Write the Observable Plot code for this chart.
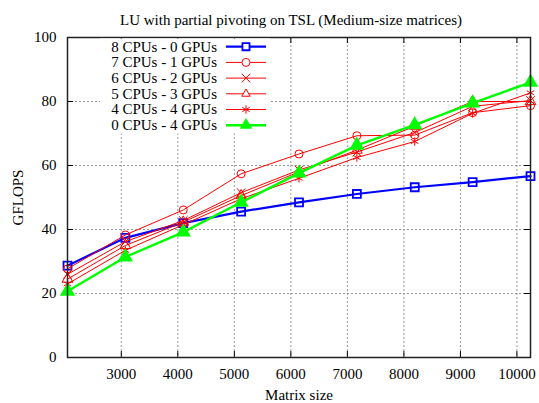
<!DOCTYPE html>
<html>
<head>
<meta charset="utf-8">
<script src="https://cdn.jsdelivr.net/npm/d3@7"></script>
<script src="https://cdn.jsdelivr.net/npm/@observablehq/plot@0.6"></script>
<style>
  html, body { margin: 0; padding: 0; background: white; }
</style>
</head>
<body>
<div id="chart"></div>
<script>
const sizes = [2048, 3072, 4096, 5120, 6144, 7168, 8192, 9216, 10240];
const cpu8gpu0 = [28.7, 37.4, 42.0, 45.6, 48.5, 51.1, 53.2, 54.8, 56.7];
const cpu7gpu1 = [27.7, 38.3, 46.1, 57.4, 63.6, 69.3, 69.5, 76.5, 78.7];
const cpu6gpu2 = [26.0, 36.2, 42.8, 51.5, 58.6, 64.2, 70.3, 78.5, 80.3];
const cpu5gpu3 = [24.5, 35.0, 42.3, 50.6, 58.0, 64.8, 72.3, 80.0, 80.0];
const cpu4gpu4 = [23.0, 33.5, 41.5, 49.6, 56.0, 62.5, 67.5, 76.3, 82.7];
const cpu0gpu4 = [20.7, 31.4, 39.2, 48.5, 57.6, 66.3, 72.7, 79.5, 86.0];
const xTicks = [3000, 4000, 5000, 6000, 7000, 8000, 9000, 10000];
const yTicks = [0, 20, 40, 60, 80, 100];
const title = "LU with partial pivoting on TSL (Medium-size matrices)";

const series = [
  {name: "8 CPUs - 0 GPUs", values: cpu8gpu0, color: "#0000ff", width: 2.2, symbol: "square", fill: "none", r: 4.5},
  {name: "7 CPUs - 1 GPUs", values: cpu7gpu1, color: "#ff0000", width: 1, symbol: "circle", fill: "none", r: 4},
  {name: "6 CPUs - 2 GPUs", values: cpu6gpu2, color: "#ff0000", width: 1, symbol: "times", fill: "none", r: 4},
  {name: "5 CPUs - 3 GPUs", values: cpu5gpu3, color: "#ff0000", width: 1, symbol: "triangle", fill: "none", r: 4},
  {name: "4 CPUs - 4 GPUs", values: cpu4gpu4, color: "#ff0000", width: 1, symbol: "asterisk", fill: "none", r: 4},
  {name: "0 CPUs - 4 GPUs", values: cpu0gpu4, color: "#00ff00", width: 2.4, symbol: "triangle", fill: "#00ff00", r: 4.5}
];

const W = 539, H = 403, mL = 67, mR = 9, mT = 37, mB = 46;
const fw = W - mL - mR, fh = H - mT - mB;
const FONT = "'Liberation Serif', 'DejaVu Serif', serif";

const marks = [
  Plot.gridX(xTicks, {stroke: "#999", strokeOpacity: 1, strokeDasharray: "2,2"}),
  Plot.gridY(yTicks, {stroke: "#999", strokeOpacity: 1, strokeDasharray: "2,2"}),
  Plot.tickX(xTicks, {x: d => d, insetTop: fh - 6, stroke: "black"}),
  Plot.tickX(xTicks, {x: d => d, insetBottom: fh - 6, stroke: "black"}),
  Plot.tickY(yTicks, {y: d => d, insetRight: fw - 6, stroke: "black"}),
  Plot.tickY(yTicks, {y: d => d, insetLeft: fw - 6, stroke: "black"}),
  Plot.axisX(xTicks, {tickSize: 0, tickPadding: 11, tickFormat: d => String(d), label: "Matrix size", labelAnchor: "center", labelArrow: "none", labelOffset: 42, fontSize: 15}),
  Plot.axisY(yTicks, {tickSize: 0, tickPadding: 11, label: "GFLOPS", labelAnchor: "center", labelArrow: "none", labelOffset: 55, fontSize: 15})
];

for (const s of series) {
  const data = sizes.map((x, i) => ({x, y: s.values[i]}));
  marks.push(Plot.line(data, {x: "x", y: "y", stroke: s.color, strokeWidth: s.width}));
  marks.push(Plot.dot(data, {x: "x", y: "y", stroke: s.color, fill: s.fill, symbol: s.symbol, r: s.r, strokeWidth: s.width > 2 ? 1.8 : 1}));
}
marks.push(Plot.frame({stroke: "#222", strokeWidth: 1.5}));
marks.push(Plot.text([title], {frameAnchor: "top", dy: -23, dx: -8, fontSize: 15, text: d => d}));

const chart = Plot.plot({
  width: W, height: H,
  marginLeft: mL, marginRight: mR, marginTop: mT, marginBottom: mB,
  style: {fontFamily: FONT, fontSize: "15px", background: "white", color: "black"},
  x: {domain: [2048, 10240]},
  y: {domain: [0, 100]},
  marks
});

// Opaque legend box inside the plot (top-left), placed above grid but below data lines
const svg = d3.select(chart);
const symMap = {square: d3.symbolSquare2, circle: d3.symbolCircle, times: d3.symbolTimes, triangle: d3.symbolTriangle2, asterisk: d3.symbolAsterisk};
const lg = svg.append("g").attr("font-family", FONT).attr("font-size", 15);
lg.append("rect").attr("x", 100).attr("y", 38.5).attr("width", 170).attr("height", 95).attr("fill", "white");
series.forEach((s, i) => {
  const y = 46.7 + i * 15.7;
  lg.append("text").attr("x", 217).attr("y", y).attr("dy", "0.32em").attr("text-anchor", "end").attr("fill", "black").text(s.name);
  lg.append("line").attr("x1", 226).attr("x2", 266).attr("y1", y).attr("y2", y).attr("stroke", s.color).attr("stroke-width", s.width);
  lg.append("path").attr("transform", `translate(246,${y})`)
    .attr("d", d3.symbol(symMap[s.symbol], s.r * s.r * Math.PI)())
    .attr("stroke", s.color).attr("fill", s.fill === "none" ? "white" : s.fill).attr("stroke-width", s.width > 2 ? 1.8 : 1);
});
// keep the frame's top edge and top ticks visible over the legend box
const gridNode = svg.node().querySelector("g[aria-label='grid']");
if (gridNode) gridNode.parentNode.insertBefore(lg.node(), gridNode.nextSibling.nextSibling);

document.getElementById("chart").appendChild(chart);
</script>
</body>
</html>
